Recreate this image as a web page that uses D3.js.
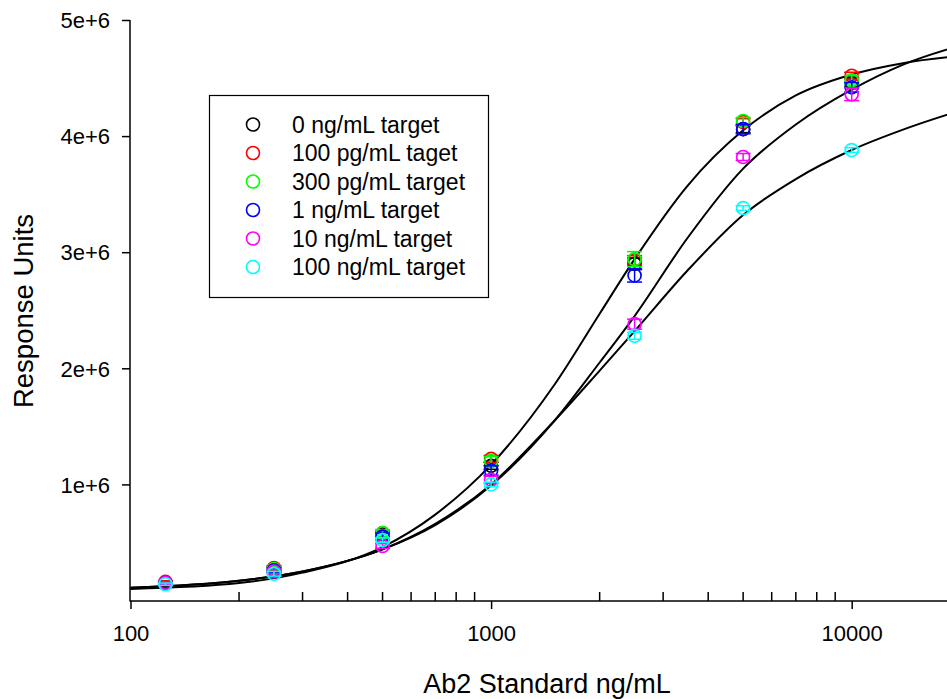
<!DOCTYPE html>
<html>
<head>
<meta charset="utf-8">
<script src="https://cdn.jsdelivr.net/npm/d3@7"></script>
<style>
  html, body { margin: 0; padding: 0; background: #fff; }
  svg { display: block; }
  text { font-family: "Liberation Sans", Arial, sans-serif; fill: #000; }
</style>
</head>
<body>
<svg id="chart" width="947" height="699"></svg>
<script>
// ---------- data ----------
const concentrations = [125, 250, 500, 1000, 2500, 5000, 10000];

const seriesNames = ["0 ng/mL target", "100 pg/mL taget", "300 pg/mL target",
                     "1 ng/mL target", "10 ng/mL target", "100 ng/mL target"];
const seriesColors = ["#000000", "#ff0000", "#00ff00", "#0000ff", "#ff00ff", "#00ffff"];

const black0   = [0.15e6, 0.27e6, 0.57e6, 1.16e6, 2.90e6, 4.06e6, 4.46e6];
const red100   = [0.16e6, 0.28e6, 0.58e6, 1.22e6, 2.93e6, 4.12e6, 4.52e6];
const green300 = [0.15e6, 0.27e6, 0.58e6, 1.20e6, 2.94e6, 4.13e6, 4.48e6];
const blue1    = [0.15e6, 0.26e6, 0.55e6, 1.12e6, 2.80e6, 4.06e6, 4.42e6];
const magenta10= [0.15e6, 0.25e6, 0.47e6, 1.04e6, 2.38e6, 3.82e6, 4.36e6];
const cyan100  = [0.14e6, 0.23e6, 0.52e6, 1.00e6, 2.28e6, 3.38e6, 3.88e6];

const errBlack   = [0.01e6, 0.02e6, 0.02e6, 0.03e6, 0.05e6, 0.03e6, 0.04e6];
const errRed     = [0.01e6, 0.02e6, 0.03e6, 0.03e6, 0.04e6, 0.03e6, 0.03e6];
const errGreen   = [0.01e6, 0.02e6, 0.03e6, 0.04e6, 0.065e6, 0.03e6, 0.04e6];
const errBlue    = [0.01e6, 0.02e6, 0.03e6, 0.04e6, 0.057e6, 0.04e6, 0.04e6];
const errMagenta = [0.01e6, 0.02e6, 0.02e6, 0.03e6, 0.043e6, 0.03e6, 0.055e6];
const errCyan    = [0.01e6, 0.02e6, 0.02e6, 0.02e6, 0.03e6, 0.02e6, 0.02e6];

// fitted curves (x, response)
const curveX = [100, 200, 300, 500, 700, 1000, 1500, 2000, 2500, 3500, 5000, 7000, 10000, 14000, 20000];
const fitTop    = [0.10e6, 0.15e6, 0.24e6, 0.46e6, 0.74e6, 1.17e6, 1.86e6, 2.47e6, 2.94e6, 3.57e6, 4.05e6, 4.35e6, 4.53e6, 4.63e6, 4.69e6];
const fitMiddle = [0.11e6, 0.17e6, 0.25e6, 0.44e6, 0.65e6, 0.99e6, 1.55e6, 2.05e6, 2.45e6, 3.12e6, 3.72e6, 4.10e6, 4.40e6, 4.62e6, 4.78e6];
const fitBottom = [0.11e6, 0.17e6, 0.25e6, 0.44e6, 0.66e6, 1.00e6, 1.55e6, 1.98e6, 2.32e6, 2.84e6, 3.32e6, 3.63e6, 3.88e6, 4.06e6, 4.22e6];

const yTickValues = [1e6, 2e6, 3e6, 4e6, 5e6];
const yTickLabels = ["1e+6", "2e+6", "3e+6", "4e+6", "5e+6"];
const xMajorTicks = [100, 1000, 10000];
const xTickLabels = ["100", "1000", "10000"];
const xTitle = "Ab2 Standard ng/mL";
const yTitle = "Response Units";

// ---------- drawing ----------
const seriesValues = [black0, red100, green300, blue1, magenta10, cyan100];
const seriesErrors = [errBlack, errRed, errGreen, errBlue, errMagenta, errCyan];

const svg = d3.select("#chart");
const x = d3.scaleLog().domain([100, 20000]).range([130.5, 130.5 + Math.log10(200) * 360.6]);
const y = d3.scaleLinear().domain([0, 5e6]).range([600.5, 20]);

// curves
const line = d3.line()
  .x(d => x(d[0])).y(d => y(d[1]))
  .curve(d3.curveMonotoneX);
[fitTop, fitMiddle, fitBottom].forEach(fit => {
  svg.append("path")
    .attr("d", line(curveX.map((cx, i) => [cx, fit[i]])))
    .attr("fill", "none")
    .attr("stroke", "#000")
    .attr("stroke-width", 2);
});

// points with error bars
const capW = 7.5;
seriesValues.forEach((vals, s) => {
  const g = svg.append("g");
  const col = seriesColors[s];
  vals.forEach((v, i) => {
    const cx = x(concentrations[i]);
    const e = seriesErrors[s][i];
    const y1 = y(v + e), y2 = y(v - e);
    g.append("line").attr("x1", cx).attr("x2", cx).attr("y1", y1).attr("y2", y2)
      .attr("stroke", col).attr("stroke-width", 1.5);
    [y1, y2].forEach(yy => g.append("line")
      .attr("x1", cx - capW).attr("x2", cx + capW).attr("y1", yy).attr("y2", yy)
      .attr("stroke", col).attr("stroke-width", 1.5));
    g.append("circle").attr("cx", cx).attr("cy", y(v)).attr("r", 6.5)
      .attr("fill", "none").attr("stroke", col).attr("stroke-width", 1.7);
  });
});

// y axis
const yAxis = d3.axisLeft(y).tickValues(yTickValues)
  .tickFormat((d, i) => yTickLabels[i]).tickSize(8).tickPadding(12);
const gy = svg.append("g").attr("transform", "translate(130,0)").call(yAxis);
gy.select(".domain").attr("d", `M0,${y(5e6)}V601.5`).attr("stroke-width", 1.5);
gy.selectAll(".tick line").attr("stroke-width", 1.5);
gy.selectAll(".tick text").style("font-size", "22px")
  .style("font-family", "'Liberation Sans', Arial, sans-serif").attr("dy", "0.35em");

// x axis: major ticks outward, minor ticks inward
const xAxis = d3.axisBottom(x).tickValues(xMajorTicks)
  .tickFormat((d, i) => xTickLabels[i]).tickSize(8).tickPadding(16);
const gx = svg.append("g").attr("transform", "translate(0,601)").call(xAxis);
gx.select(".domain").attr("d", `M130,0H947`).attr("stroke-width", 1.5);
gx.selectAll(".tick line").attr("stroke-width", 1.5);
gx.selectAll(".tick text").style("font-size", "22px")
  .style("font-family", "'Liberation Sans', Arial, sans-serif");

const minorTicks = x.ticks().filter(t => xMajorTicks.indexOf(t) < 0 && t < 20000);
gx.selectAll(".minor").data(minorTicks).enter().append("line")
  .attr("class", "minor")
  .attr("x1", d => x(d)).attr("x2", d => x(d))
  .attr("y1", 0).attr("y2", -9)
  .attr("stroke", "#000").attr("stroke-width", 1.5);

// axis titles
svg.append("text").attr("x", 547).attr("y", 693).attr("text-anchor", "middle")
  .style("font-size", "27px").text(xTitle);
svg.append("text").attr("transform", "translate(33,311) rotate(-90)")
  .attr("text-anchor", "middle").style("font-size", "27.5px").text(yTitle);

// legend
const lg = svg.append("g");
lg.append("rect").attr("x", 209.5).attr("y", 95.5).attr("width", 279).attr("height", 202)
  .attr("fill", "#fff").attr("stroke", "#000").attr("stroke-width", 1.2);
seriesNames.forEach((name, i) => {
  const cy = 124.5 + i * 28.5;
  lg.append("circle").attr("cx", 253).attr("cy", cy).attr("r", 6.5)
    .attr("fill", "none").attr("stroke", seriesColors[i]).attr("stroke-width", 1.6);
  lg.append("text").attr("x", 292).attr("y", cy + 8).style("font-size", "23px").text(name);
});
</script>
</body>
</html>
